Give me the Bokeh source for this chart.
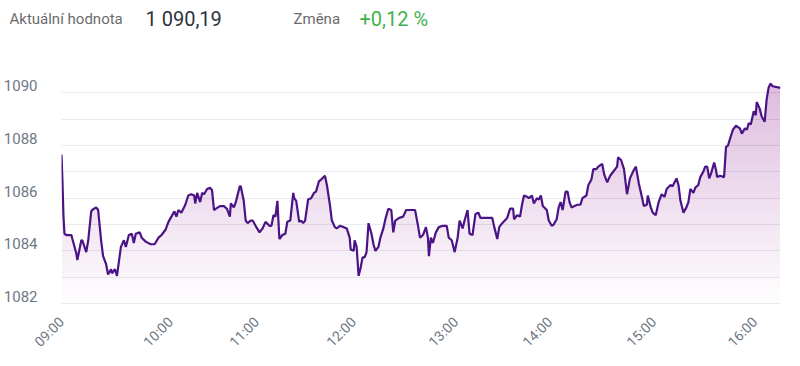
import numpy as np
from bokeh.plotting import figure
from bokeh.layouts import column
from bokeh.models import Range1d, FixedTicker, SingleIntervalTicker
from bokeh.core.properties import value
from bokeh.embed import file_html
from bokeh.resources import INLINE

# ---- data ----
# sequence position of each observation (ordinal axis) and index value
seq = [0, 1, 2, 3, 5, 10, 11, 15, 16, 20, 21, 25, 27, 30, 31, 35, 37, 40, 42, 45,
       47, 50, 51, 54, 56, 60, 63, 65, 68, 71, 73, 75, 79, 81, 85, 90, 94, 98, 101, 105,
       108, 111, 114, 116, 118, 121, 123, 125, 128, 131, 134, 135, 137, 140, 142, 144, 147, 150, 152, 154,
       156, 160, 164, 167, 170, 171, 174, 176, 180, 181, 184, 186, 188, 191, 193, 196, 200, 203, 206, 210,
       212, 214, 216, 218, 220, 223, 226, 228, 231, 234, 235, 237, 240, 242, 244, 246, 249, 252, 255, 257,
       260, 262, 266, 268, 271, 273, 276, 278, 281, 285, 288, 291, 292, 295, 296, 298, 300, 302, 304, 306,
       308, 310, 313, 315, 317, 320, 322, 325, 327, 330, 333, 335, 337, 341, 345, 348, 353, 357, 360, 362,
       365, 368, 370, 371, 373, 375, 378, 381, 385, 389, 391, 394, 397, 400, 402, 405, 407, 410, 412, 415,
       418, 421, 423, 428, 435, 437, 440, 442, 445, 450, 453, 456, 457, 460, 463, 465, 467, 470, 472, 475,
       477, 480, 482, 484, 486, 490, 492, 495, 497, 500, 502, 504, 506, 509, 511, 513, 515, 518, 521, 524,
       526, 530, 532, 535, 537, 540, 542, 546, 548, 551, 554, 558, 561, 562, 565, 568, 571, 574, 577, 580,
       583, 586, 588, 591, 592, 595, 597, 600, 603, 606, 609, 611, 615, 617, 621, 623, 625, 628, 631, 633,
       635, 638, 640, 643, 645, 648, 650, 652, 654, 656, 659, 661, 662, 665, 669, 671, 673, 675, 678, 681,
       685, 687, 690, 692, 694, 696, 699, 701, 702, 705, 707, 710, 712, 714, 716, 718, 726]

values = [1087.65, 1086.6, 1085.3, 1084.65, 1084.6, 1084.6, 1084.45, 1083.9, 1083.65, 1084.4,
          1084.4, 1083.95, 1084.4, 1085.5, 1085.55, 1085.65, 1085.55, 1084.4, 1083.8, 1083.5,
          1083.1, 1083.3, 1083.15, 1083.3, 1083.05, 1084.15, 1084.4, 1084.15, 1084.6, 1084.65,
          1084.3, 1084.65, 1084.7, 1084.5, 1084.35, 1084.25, 1084.25, 1084.5, 1084.6, 1084.8,
          1085.1, 1085.3, 1085.5, 1085.3, 1085.55, 1085.45, 1085.6, 1085.75, 1086.1, 1086.15,
          1086.1, 1085.8, 1086.2, 1085.85, 1086.2, 1086.15, 1086.35, 1086.4, 1086.3, 1085.55,
          1085.6, 1085.7, 1085.7, 1085.6, 1085.3, 1085.8, 1085.65, 1085.85, 1086.45, 1086.45,
          1085.9, 1085.15, 1085.05, 1085.15, 1085.15, 1084.95, 1084.7, 1084.85, 1085.1, 1084.95,
          1084.95, 1085.35, 1085.3, 1085.9, 1084.45, 1084.6, 1084.65, 1085.1, 1085.15, 1086.2,
          1086.0, 1085.9, 1085.1, 1085.15, 1085.05, 1085.15, 1085.95, 1086.0, 1086.2, 1086.25,
          1086.65, 1086.7, 1086.85, 1086.5, 1085.75, 1085.15, 1084.9, 1084.85, 1084.95, 1084.9,
          1084.85, 1084.5, 1084.05, 1084.0, 1084.4, 1084.15, 1083.05, 1083.35, 1083.75, 1083.75,
          1083.95, 1085.05, 1084.65, 1084.25, 1084.0, 1084.15, 1084.5, 1084.85, 1085.2, 1085.6,
          1085.55, 1084.7, 1085.15, 1085.25, 1085.3, 1085.55, 1085.55, 1085.55, 1084.95, 1084.5,
          1084.6, 1084.9, 1084.5, 1083.8, 1084.5, 1084.3, 1084.7, 1084.9, 1084.95, 1084.95,
          1084.5, 1084.4, 1083.95, 1084.5, 1085.15, 1084.85, 1085.15, 1085.55, 1084.65, 1084.6,
          1085.4, 1085.45, 1085.25, 1085.25, 1085.25, 1084.9, 1084.45, 1084.9, 1085.05, 1085.25,
          1085.6, 1085.6, 1085.2, 1085.35, 1085.3, 1085.75, 1086.1, 1086.05, 1086.0, 1086.1,
          1085.8, 1086.0, 1085.95, 1086.1, 1085.7, 1085.55, 1085.15, 1084.95, 1085.0, 1085.2,
          1085.65, 1085.85, 1085.55, 1086.25, 1086.25, 1085.85, 1085.65, 1085.7, 1085.75, 1085.75,
          1086.0, 1086.1, 1086.5, 1086.7, 1087.1, 1087.1, 1087.2, 1087.3, 1086.9, 1086.6,
          1086.85, 1087.05, 1087.2, 1087.55, 1087.45, 1087.1, 1086.15, 1086.75, 1087.0, 1087.2,
          1086.55, 1086.05, 1085.7, 1085.75, 1086.1, 1085.65, 1085.45, 1085.35, 1085.85, 1086.15,
          1086.05, 1086.35, 1086.5, 1086.45, 1086.75, 1086.5, 1085.9, 1085.45, 1085.65, 1085.85,
          1086.35, 1086.2, 1086.4, 1086.5, 1086.8, 1087.0, 1087.2, 1087.2, 1086.75, 1086.95,
          1087.35, 1087.05, 1086.8, 1086.85, 1086.8, 1087.95, 1088.0, 1088.25, 1088.6, 1088.75,
          1088.65, 1088.45, 1088.65, 1088.6, 1088.85, 1088.8, 1089.3, 1089.15, 1089.65, 1089.4,
          1089.1, 1088.9, 1089.75, 1090.2, 1090.35, 1090.25, 1090.19]

hour_pos = [0, 110, 197, 295, 398, 493, 598, 700]
hour_labels = ["09:00", "10:00", "11:00", "12:00", "13:00", "14:00", "15:00", "16:00"]

y_min, y_max = 1082, 1091
y_label_values = [1082, 1084, 1086, 1088, 1090]

header_names = ["Aktuální hodnota", "Změna"]
header_values = ["1 090,19", "+0,12 %"]

# ---- styling ----
LINE = "#4a1486"
GRID = "#e9ebf0"
LABEL = "#6f7886"
FONT = "Roboto"
W = 784
LABEL_LIFT = 0.27   # y labels sit a little above their grid lines

# ---- header strip ----
h = figure(width=W, height=50, output_backend="svg", toolbar_location=None,
           x_range=Range1d(0, W), y_range=Range1d(0, 50),
           min_border=0, min_border_left=0, min_border_right=0,
           min_border_top=0, min_border_bottom=0,
           x_axis_type=None, y_axis_type=None)
h.frame_align = False
h.outline_line_color = None
h.grid.grid_line_color = None
hy = 32
h.text(x=[9], y=[hy], text=[header_names[0]], text_font=value(FONT), text_font_size="15px",
       text_color="#6b6b6b", text_baseline="middle")
h.text(x=[145], y=[hy], text=[header_values[0]], text_font=value(FONT), text_font_size="20px",
       text_color="#2e3440", text_baseline="middle")
h.text(x=[293], y=[hy], text=[header_names[1]], text_font=value(FONT), text_font_size="15px",
       text_color="#6b6b6b", text_baseline="middle")
h.text(x=[359], y=[hy], text=[header_values[1]], text_font=value(FONT), text_font_size="20px",
       text_color="#3fb34f", text_baseline="middle")

# ---- main chart ----
p = figure(width=W, height=308, output_backend="svg", toolbar_location=None,
           x_range=Range1d(seq[0], seq[-1]), y_range=Range1d(y_min, y_max),
           min_border_left=54, min_border_right=4, min_border_top=16, min_border_bottom=55)
p.frame_align = False
p.outline_line_color = None

x = np.array(seq, dtype=float)
y = np.array(values, dtype=float)

# vertical gradient under the line, built from stacked translucent bands
for lv in np.arange(y_min, y_max, 0.25):
    p.varea(x=x, y1=lv, y2=np.maximum(y, lv), fill_color=LINE, fill_alpha=0.006)

p.line(x, y, line_color=LINE, line_width=2.2)

# x axis
p.xaxis.ticker = FixedTicker(ticks=hour_pos)
p.xaxis.major_label_overrides = {pos: lab for pos, lab in zip(hour_pos, hour_labels)}
p.xaxis.major_label_orientation = np.pi / 4
p.xaxis.axis_line_color = GRID
p.xaxis.major_tick_line_color = None
p.xaxis.minor_tick_line_color = None
p.xaxis.major_label_text_font = FONT
p.xaxis.major_label_text_font_size = "14px"
p.xaxis.major_label_text_color = LABEL
p.xaxis.major_label_standoff = 10
p.xgrid.grid_line_color = None

# y axis: labels every 2, grid every 1
lifted = [v + LABEL_LIFT for v in y_label_values]
p.yaxis.ticker = FixedTicker(ticks=lifted)
p.yaxis.major_label_overrides = {t: str(v) for t, v in zip(lifted, y_label_values)}
p.yaxis.axis_line_color = None
p.yaxis.major_tick_line_color = None
p.yaxis.minor_tick_line_color = None
p.yaxis.major_label_text_font = FONT
p.yaxis.major_label_text_font_size = "15px"
p.yaxis.major_label_text_color = LABEL
p.yaxis.major_label_standoff = 18
p.ygrid.ticker = SingleIntervalTicker(interval=1)
p.ygrid.grid_line_color = GRID

open("out.html", "w").write(file_html(column(h, p, spacing=0), INLINE))
